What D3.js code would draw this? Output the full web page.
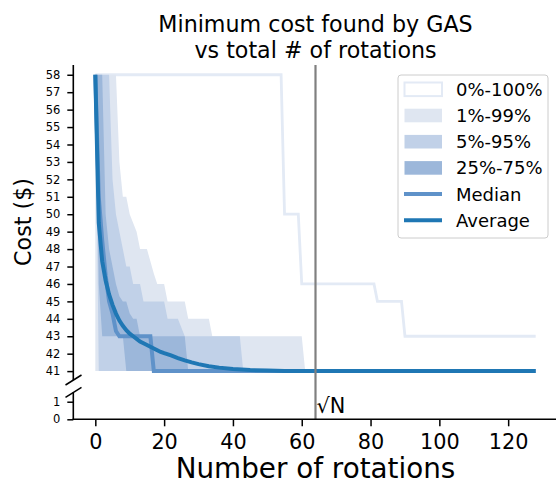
<!DOCTYPE html>
<html>
<head>
<meta charset="utf-8">
<script src="https://cdn.jsdelivr.net/npm/d3@7"></script>
<style>
  body { margin: 0; background: #fff; }
  svg { font-family: "DejaVu Sans", sans-serif; }
</style>
</head>
<body>
<div id="chart"></div>
<script>
// ---- data (x = number of rotations, value = cost in $) ----
const rotationTicks = [0, 20, 40, 60, 80, 100, 120];
const costTicksTop  = [41, 42, 43, 44, 45, 46, 47, 48, 49, 50, 51, 52, 53, 54, 55, 56, 57, 58];
const costTicksLow  = [0, 1];
const sqrtN = 64;

const band0_100Hi = [[0,58],[54,58],[55,50],[59,50],[60,46],[81,46],[82,45],[89,45],[90,43],[128,43]];

const band1_99Hi = [[0,58],[6,58],[7,53],[8,51],[9,51],[10,50],[11,49.5],[12,49],[13,48],[15,48],[16,47.3],
  [17,46.6],[18,46],[20,46],[21,45],[26,45],[27,44],[33,44],[34,43],[60,43],[61,41]];
const band1_99Lo = [[0,41],[61,41]];

const band5_95Hi = [[0,58],[4,58],[5,52],[6,50],[7,49],[8,48],[9,47],[10,47],[11,46],[13,46],[14,45],
  [20,45],[21,44],[24,44],[25,43.5],[26,43],[42,43],[43,41]];
const band5_95Lo = [[0,58],[1,41],[43,41]];

const band25_75Hi = [[0,58],[2,58],[3,50],[4,48],[5,47],[6,46],[7,45.3],[8,45],[9,45],[10,44.3],[11,44],
  [12,44],[13,43],[26,43],[27,41]];
const band25_75Lo = [[0,58],[1,46],[2,43],[8,43],[9,41],[27,41]];

const medianCost = [[0,58],[1,51],[2,48.5],[3,46.5],[4,45],[5,44.3],[6,43.3],[7,43],[16,43],[17,41],[128,41]];

const averageCost = [[0,58],[1,49.5],[2,47.3],[3,46.2],[4,45.4],[5,44.8],[6,44.3],[7,43.9],[8,43.6],[9,43.35],
  [10,43.15],[11,43.0],[12,42.85],[13,42.7],[14,42.6],[15,42.5],[16,42.4],[17,42.3],[18,42.2],[19,42.1],
  [20,42.03],[22,41.9],[24,41.75],[26,41.62],[28,41.5],[30,41.4],[33,41.28],[36,41.2],[40,41.12],
  [45,41.06],[50,41.03],[55,41.01],[60,41],[128,41]];

const legendItems = ["0%-100%", "1%-99%", "5%-95%", "25%-75%", "Median", "Average"];

// ---- layout ----
const width = 556, height = 485;
const colors = {
  outer: "#e3eaf5",
  b1: "#dfe6f1",
  b5: "#c1d1e8",
  b25: "#9cb7da",
  median: "#5f92c9",
  average: "#1f77b4"
};

const svg = d3.select("#chart")
  .append("svg")
    .attr("width", width)
    .attr("height", height);

const x = d3.scaleLinear().domain([-6.4, 134.4]).range([73.3, 557.7]);
const yTop = d3.scaleLinear().domain([40.49, 58.56]).range([380, 65]);
const yLow = d3.scaleLinear().domain([0, 1.53]).range([419.3, 392.4]);

// value of a polyline [[x, v], ...] at xv
const valueAt = (pts, xv) => {
  for (let i = 0; i < pts.length - 1; i++) {
    if (xv >= pts[i][0] && xv <= pts[i + 1][0]) {
      const t = (xv - pts[i][0]) / (pts[i + 1][0] - pts[i][0]);
      return pts[i][1] + t * (pts[i + 1][1] - pts[i][1]);
    }
  }
  return pts[pts.length - 1][1];
};

const bandRows = (hi, lo) => {
  const xs = Array.from(new Set(hi.map(d => d[0]).concat(lo.map(d => d[0])))).sort((a, b) => a - b);
  return xs.map(xv => ({ x: xv, hi: valueAt(hi, xv), lo: valueAt(lo, xv) }));
};

const area = d3.area()
  .x(d => x(d.x))
  .y0(d => yTop(d.lo))
  .y1(d => yTop(d.hi));

const line = d3.line()
  .x(d => x(d[0]))
  .y(d => yTop(d[1]));

const plot = svg.append("g");

plot.append("path")
  .datum(band0_100Hi)
  .attr("d", line)
  .attr("fill", "none")
  .attr("stroke", colors.outer)
  .attr("stroke-width", 2.8);

[[band1_99Hi, band1_99Lo, colors.b1],
 [band5_95Hi, band5_95Lo, colors.b5],
 [band25_75Hi, band25_75Lo, colors.b25]].forEach(([hi, lo, c]) => {
  plot.append("path")
    .datum(bandRows(hi, lo))
    .attr("d", area)
    .attr("fill", c);
});

plot.append("path")
  .datum(medianCost)
  .attr("d", line)
  .attr("fill", "none")
  .attr("stroke", colors.median)
  .attr("stroke-width", 4);

plot.append("path")
  .datum(averageCost)
  .attr("d", line)
  .attr("fill", "none")
  .attr("stroke", colors.average)
  .attr("stroke-width", 4);

// sqrt(N) marker
svg.append("line")
  .attr("x1", x(sqrtN)).attr("x2", x(sqrtN))
  .attr("y1", 65).attr("y2", 419.3)
  .attr("stroke", "#808080")
  .attr("stroke-width", 2.2);

svg.append("text")
  .attr("x", x(sqrtN) + 1)
  .attr("y", 413)
  .attr("font-size", 20.8)
  .text("√N");

// axes
const yAxisTop = d3.axisLeft(yTop).tickValues(costTicksTop).tickFormat(d3.format("d")).tickSize(6).tickPadding(7);
const yAxisLow = d3.axisLeft(yLow).tickValues(costTicksLow).tickFormat(d3.format("d")).tickSize(6).tickPadding(7);
const xAxis = d3.axisBottom(x).tickValues(rotationTicks).tickFormat(d3.format("d")).tickSize(7).tickPadding(8);

const styleAxis = (g, fs) => {
  g.select(".domain").remove();
  g.selectAll(".tick line").attr("stroke", "#000").attr("stroke-width", 1.5);
  g.selectAll(".tick text").attr("font-size", fs).attr("fill", "#000").attr("font-family", "DejaVu Sans");
};

svg.append("g")
  .attr("transform", "translate(73.3,0)")
  .call(yAxisTop)
  .call(g => styleAxis(g, 11.5));

svg.append("g")
  .attr("transform", "translate(73.3,0)")
  .call(yAxisLow)
  .call(g => styleAxis(g, 11.5));

svg.append("g")
  .attr("transform", "translate(0,419.3)")
  .call(xAxis)
  .call(g => styleAxis(g, 20.8));

// spines
svg.append("line")
  .attr("x1", 73.3).attr("x2", 73.3).attr("y1", 65).attr("y2", 380)
  .attr("stroke", "#000").attr("stroke-width", 1.6);
svg.append("line")
  .attr("x1", 73.3).attr("x2", 73.3).attr("y1", 392.4).attr("y2", 419.3)
  .attr("stroke", "#000").attr("stroke-width", 1.6);
svg.append("line")
  .attr("x1", 72.5).attr("x2", width).attr("y1", 419.3).attr("y2", 419.3)
  .attr("stroke", "#000").attr("stroke-width", 1.6);

// break marks
[380, 392.4].forEach(yy => {
  svg.append("line")
    .attr("x1", 65.5).attr("y1", yy + 5)
    .attr("x2", 81.5).attr("y2", yy - 5)
    .attr("stroke", "#000").attr("stroke-width", 1.5);
});

// titles
svg.append("text")
  .attr("x", 315.5).attr("y", 32)
  .attr("text-anchor", "middle")
  .attr("font-size", 22.2)
  .text("Minimum cost found by GAS");
svg.append("text")
  .attr("x", 315.5).attr("y", 58)
  .attr("text-anchor", "middle")
  .attr("font-size", 22.2)
  .text("vs total # of rotations");

svg.append("text")
  .attr("x", 315.5).attr("y", 478)
  .attr("text-anchor", "middle")
  .attr("font-size", 27.8)
  .text("Number of rotations");

svg.append("text")
  .attr("transform", "translate(31,222) rotate(-90)")
  .attr("text-anchor", "middle")
  .attr("font-size", 22.2)
  .text("Cost ($)");

// legend
const legend = svg.append("g").attr("transform", "translate(398,75)");
legend.append("rect")
  .attr("x", 0).attr("y", 0)
  .attr("width", 150).attr("height", 163)
  .attr("rx", 3)
  .attr("fill", "#fff").attr("fill-opacity", 0.8)
  .attr("stroke", "#cccccc").attr("stroke-width", 1);

legendItems.forEach((name, i) => {
  const cy = 14.3 + i * 26.2;
  const g = legend.append("g").attr("transform", `translate(0,${cy})`);
  if (i < 4) {
    const fill = [ "#fff", colors.b1, colors.b5, colors.b25 ][i];
    g.append("rect")
      .attr("x", 6.5).attr("y", -6.8)
      .attr("width", 37.5).attr("height", 13.6)
      .attr("fill", fill)
      .attr("stroke", i === 0 ? colors.outer : "none")
      .attr("stroke-width", 2);
  } else {
    g.append("line")
      .attr("x1", 6).attr("x2", 44)
      .attr("stroke", i === 4 ? colors.median : colors.average)
      .attr("stroke-width", 4);
  }
  g.append("text")
    .attr("x", 58).attr("y", 6.5)
    .attr("font-size", 18)
    .text(name);
});
</script>
</body>
</html>
